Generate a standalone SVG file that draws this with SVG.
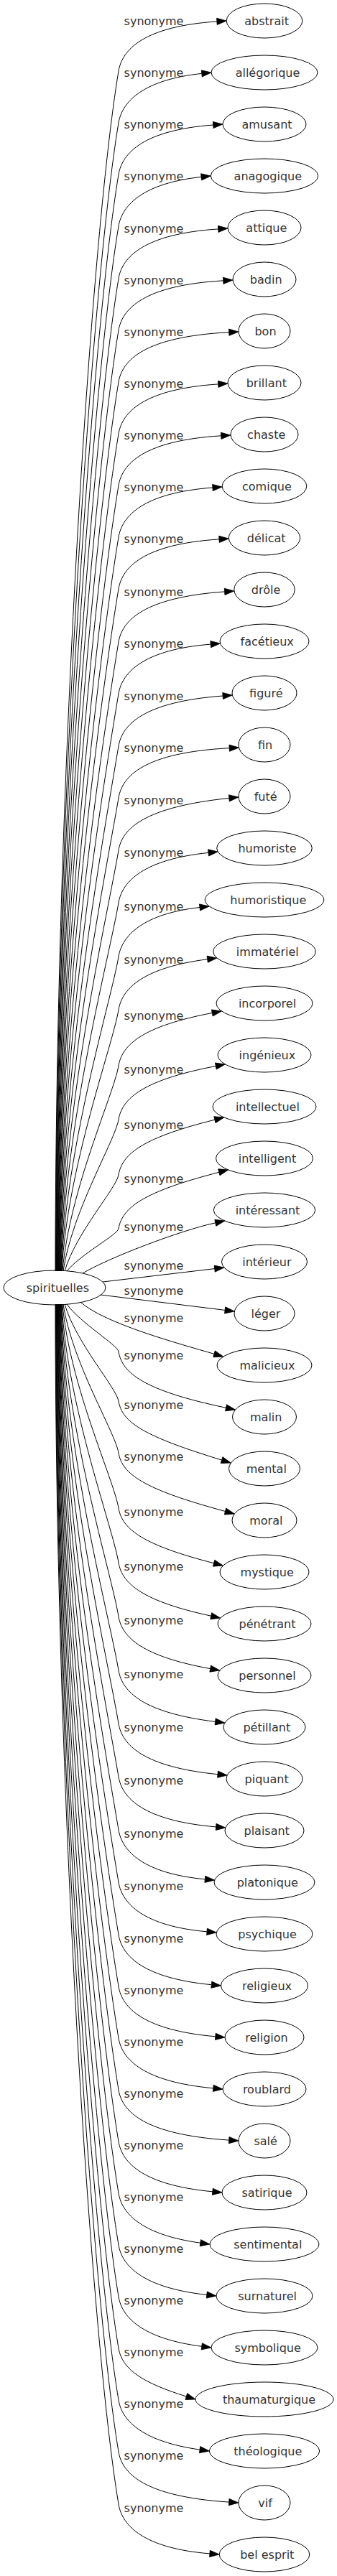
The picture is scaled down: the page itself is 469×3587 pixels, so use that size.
<svg xmlns="http://www.w3.org/2000/svg" width="469" height="3587" viewBox="0 0 469 3587">
<style>
.n ellipse{fill:none;stroke:#000;stroke-width:1}
text{font-family:"DejaVu Sans","Liberation Sans",sans-serif;font-size:16px;fill:#333;text-anchor:middle}
.e path{fill:none;stroke:#000;stroke-width:1;marker-end:url(#ah)}
</style>
<defs>
<marker id="ah" markerUnits="userSpaceOnUse" markerWidth="15" markerHeight="11" refX="0" refY="5" orient="auto" overflow="visible">
<path d="M0,0.4 L13.3,5 L0,9.6 Z" fill="#000" stroke="#000" stroke-width="0.8"/>
</marker>
</defs>
<rect width="469" height="3587" fill="#fff"/>
<g id="connectors" class="e">
<path d="M77,1770 C77.1,1101.6 126,332.9 165,99 C170,69 200,36.8 301.9,29.9"/>
<path d="M77.5,1770 C77.6,1130.4 127.7,394.9 165,171 C170,141 200,110.9 280.8,102.4"/>
<path d="M78,1770 C78.2,1159.2 129.4,456.8 165,243 C170,213 200,181.2 296.7,174"/>
<path d="M78.5,1770 C78.7,1188 131.1,518.7 165,315 C170,285 200,255 280.1,246.4"/>
<path d="M79,1770 C79.3,1217.2 132.8,581.5 165,388 C170,358 200,325.7 303.7,318.9"/>
<path d="M79.5,1770 C79.9,1246 134.4,643.4 165,460 C170,430 200,397.3 310.7,390.8"/>
<path d="M80,1770 C80.5,1274.8 136.1,705.3 165,532 C170,502 200,468.9 318.7,462.7"/>
<path d="M80.5,1770 C81.1,1303.6 137.8,767.2 165,604 C170,574 200,541.7 303.7,534.9"/>
<path d="M81,1770 C81.7,1332.4 139.5,829.2 165,676 C170,646 200,613.4 307.7,606.8"/>
<path d="M81.5,1770 C82.4,1361.2 141.2,891.1 165,748 C170,718 200,686.2 295.9,679"/>
<path d="M82,1770 C83.1,1390 142.8,953 165,820 C170,790 200,757.6 305,750.9"/>
<path d="M82.5,1770 C84,1419.6 144.6,1016.6 165,894 C170,864 200,832 312.6,823.9"/>
<path d="M83,1770 C84.9,1448.4 146.2,1078.6 165,966 C170,936 200,904.5 293.2,897.1"/>
<path d="M83.5,1770 C85.9,1477.6 148,1141.3 165,1039 C170,1009 200,977.2 310.1,969"/>
<path d="M84,1770 C87,1506.4 149.6,1203.3 165,1111 C170,1081 200,1047.9 319.2,1041.7"/>
<path d="M84.5,1770 C88.3,1535.6 151.3,1266 165,1184 C170,1154 200,1123.9 318.8,1111.4"/>
<path d="M85,1770 C89.8,1564.8 153,1328.8 165,1257 C170,1227 200,1196.9 290,1187.4"/>
<path d="M85.5,1770 C91.6,1594.8 154.8,1393.3 165,1332 C170,1302 200,1272.4 278,1263.5"/>
<path d="M86,1770 C93.8,1624.4 156.5,1457 165,1406 C170,1376 200,1347.3 288.7,1335.7"/>
<path d="M87,1770 C96.9,1655.6 158.3,1524 165,1484 C170,1454 200,1428.7 295.3,1410.5"/>
<path d="M88,1770 C100.6,1685.6 160.1,1588.5 165,1559 C170,1529 200,1503.7 300.3,1484.5"/>
<path d="M90,1770 C105.8,1716.4 161.9,1654.8 165,1636 C170,1606 200,1584 298.9,1559.2"/>
<path d="M93,1770 C112.4,1746.4 163.6,1719.3 165,1711 C170,1681 200,1659.5 304.8,1632.3"/>
<path d="M115,1773 C150,1752 250.9,1713.2 299.8,1702.8"/>
<path d="M143,1785 L298.7,1766.6"/>
<path d="M140,1803 L313.1,1824.4"/>
<path d="M112,1813 C145,1843 250,1871.3 298,1885.3"/>
<path d="M93,1816 C112.1,1842.4 163.5,1872.8 165,1882 C170,1912 200,1936.3 314.5,1960.3"/>
<path d="M90,1816 C105.8,1870 161.9,1932.1 165,1951 C170,1981 200,1999.8 308.6,2033.1"/>
<path d="M88,1816 C100.7,1898.8 160.2,1994 165,2023 C170,2053 200,2073.8 313.5,2104.5"/>
<path d="M87,1816 C97,1929.6 158.4,2060.2 165,2100 C170,2130 200,2151.6 297.6,2176.7"/>
<path d="M86,1816 C93.9,1960 156.6,2125.6 165,2176 C170,2206 200,2229.9 293.7,2250.2"/>
<path d="M85.5,1816 C91.7,1990 154.9,2190.1 165,2251 C170,2281 200,2306.8 292.7,2323.6"/>
<path d="M85,1816 C89.8,2020 153.1,2254.6 165,2326 C170,2356 200,2385.1 299.6,2397.4"/>
<path d="M84.5,1816 C88.3,2049.6 151.4,2318.2 165,2400 C170,2430 200,2460.4 303,2470.7"/>
<path d="M84,1816 C87,2079.2 149.6,2381.9 165,2474 C170,2504 200,2535.2 300.6,2543.9"/>
<path d="M83.5,1816 C85.8,2108.8 147.9,2445.5 165,2548 C170,2578 200,2608.8 285.3,2616.8"/>
<path d="M83,1816 C84.8,2138 146.2,2508.3 165,2621 C170,2651 200,2682 288,2689.8"/>
<path d="M82.5,1816 C84,2167.2 144.5,2571.1 165,2694 C170,2724 200,2754.5 294.3,2763.7"/>
<path d="M82,1816 C83.2,2196 142.8,2633 165,2766 C170,2796 200,2827 299.8,2835.8"/>
<path d="M81.5,1816 C82.4,2224.8 141.2,2694.9 165,2838 C170,2868 200,2898.8 296.8,2907.8"/>
<path d="M81,1816 C81.7,2253.6 139.5,2756.8 165,2910 C170,2940 200,2972.3 318.7,2980.1"/>
<path d="M80.5,1816 C81.1,2282.4 137.8,2818.8 165,2982 C170,3012 200,3042.8 295.8,3051.8"/>
<path d="M80,1816 C80.5,2311.2 136.1,2880.7 165,3054 C170,3084 200,3112.3 278.8,3123.2"/>
<path d="M79.5,1816 C79.9,2340 134.4,2942.6 165,3126 C170,3156 200,3185.7 287.8,3195.5"/>
<path d="M79,1816 C79.3,2368.8 132.8,3004.5 165,3198 C170,3228 200,3256.7 280.8,3267.3"/>
<path d="M78.5,1816 C78.7,2397.6 131.1,3066.4 165,3270 C170,3300 200,3318.5 259.3,3337"/>
<path d="M78,1816 C78.2,2426.4 129.4,3128.4 165,3342 C170,3372 200,3400 278.1,3411.1"/>
<path d="M77.5,1816 C77.6,2455.2 127.7,3190.3 165,3414 C170,3444 200,3476.3 318.7,3484.1"/>
<path d="M77,1816 C77.1,2484.4 126,3253.1 165,3487 C170,3517 200,3548.4 291.9,3555.9"/>
</g>
<g id="edge-labels">
<text x="214" y="35">synonyme</text>
<text x="214" y="107">synonyme</text>
<text x="214" y="179">synonyme</text>
<text x="214" y="251">synonyme</text>
<text x="214" y="324">synonyme</text>
<text x="214" y="396">synonyme</text>
<text x="214" y="468">synonyme</text>
<text x="214" y="540">synonyme</text>
<text x="214" y="612">synonyme</text>
<text x="214" y="684">synonyme</text>
<text x="214" y="756">synonyme</text>
<text x="214" y="830">synonyme</text>
<text x="214" y="902">synonyme</text>
<text x="214" y="975">synonyme</text>
<text x="214" y="1047">synonyme</text>
<text x="214" y="1120">synonyme</text>
<text x="214" y="1193">synonyme</text>
<text x="214" y="1268">synonyme</text>
<text x="214" y="1342">synonyme</text>
<text x="214" y="1420">synonyme</text>
<text x="214" y="1495">synonyme</text>
<text x="214" y="1572">synonyme</text>
<text x="214" y="1647">synonyme</text>
<text x="214" y="1714">synonyme</text>
<text x="214" y="1768">synonyme</text>
<text x="214" y="1803">synonyme</text>
<text x="214" y="1841">synonyme</text>
<text x="214" y="1893">synonyme</text>
<text x="214" y="1962">synonyme</text>
<text x="214" y="2034">synonyme</text>
<text x="214" y="2111">synonyme</text>
<text x="214" y="2187">synonyme</text>
<text x="214" y="2262">synonyme</text>
<text x="214" y="2337">synonyme</text>
<text x="214" y="2411">synonyme</text>
<text x="214" y="2485">synonyme</text>
<text x="214" y="2559">synonyme</text>
<text x="214" y="2632">synonyme</text>
<text x="214" y="2705">synonyme</text>
<text x="214" y="2777">synonyme</text>
<text x="214" y="2849">synonyme</text>
<text x="214" y="2921">synonyme</text>
<text x="214" y="2993">synonyme</text>
<text x="214" y="3065">synonyme</text>
<text x="214" y="3137">synonyme</text>
<text x="214" y="3209">synonyme</text>
<text x="214" y="3281">synonyme</text>
<text x="214" y="3353">synonyme</text>
<text x="214" y="3425">synonyme</text>
<text x="214" y="3498">synonyme</text>
</g>
<g id="n0" class="n"><ellipse cx="76" cy="1793" rx="71" ry="24"/><text x="80.4" y="1799">spirituelles</text></g>
<g id="n1" class="n"><ellipse cx="368" cy="29" rx="52.8" ry="24"/><text x="371.1" y="35">abstrait</text></g>
<g id="n2" class="n"><ellipse cx="368" cy="101" rx="74" ry="24"/><text x="372.5" y="107">allégorique</text></g>
<g id="n3" class="n"><ellipse cx="368" cy="173" rx="58" ry="24"/><text x="371.5" y="179">amusant</text></g>
<g id="n4" class="n"><ellipse cx="368" cy="245" rx="74.7" ry="24"/><text x="372.8" y="251">anagogique</text></g>
<g id="n5" class="n"><ellipse cx="368" cy="317" rx="51" ry="24"/><text x="370.8" y="323">attique</text></g>
<g id="n6" class="n"><ellipse cx="368" cy="389" rx="44" ry="24"/><text x="370.2" y="395">badin</text></g>
<g id="n7" class="n"><ellipse cx="368" cy="461" rx="36" ry="24"/><text x="369.5" y="467">bon</text></g>
<g id="n8" class="n"><ellipse cx="368" cy="533" rx="51" ry="24"/><text x="370.8" y="539">brillant</text></g>
<g id="n9" class="n"><ellipse cx="368" cy="605" rx="47" ry="24"/><text x="370.7" y="611">chaste</text></g>
<g id="n10" class="n"><ellipse cx="368" cy="677" rx="58.8" ry="24"/><text x="371.4" y="683">comique</text></g>
<g id="n11" class="n"><ellipse cx="368" cy="749" rx="49.7" ry="24"/><text x="370.7" y="755">délicat</text></g>
<g id="n12" class="n"><ellipse cx="368" cy="821" rx="42.2" ry="24"/><text x="370" y="827">drôle</text></g>
<g id="n13" class="n"><ellipse cx="368" cy="893" rx="62" ry="24"/><text x="371.7" y="899">facétieux</text></g>
<g id="n14" class="n"><ellipse cx="368" cy="965" rx="45" ry="24"/><text x="370.3" y="971">figuré</text></g>
<g id="n15" class="n"><ellipse cx="368" cy="1037" rx="36" ry="24"/><text x="369" y="1043">fin</text></g>
<g id="n16" class="n"><ellipse cx="368" cy="1109" rx="36" ry="24"/><text x="369.6" y="1115">futé</text></g>
<g id="n17" class="n"><ellipse cx="368" cy="1181" rx="66.3" ry="24"/><text x="372" y="1187">humoriste</text></g>
<g id="n18" class="n"><ellipse cx="368" cy="1253" rx="82.8" ry="24"/><text x="373.3" y="1259">humoristique</text></g>
<g id="n19" class="n"><ellipse cx="368" cy="1325" rx="71.3" ry="24"/><text x="372.3" y="1331">immatériel</text></g>
<g id="n20" class="n"><ellipse cx="368" cy="1397" rx="67" ry="24"/><text x="372" y="1403">incorporel</text></g>
<g id="n21" class="n"><ellipse cx="368" cy="1469" rx="65" ry="24"/><text x="371.9" y="1475">ingénieux</text></g>
<g id="n22" class="n"><ellipse cx="368" cy="1541" rx="72" ry="24"/><text x="372.4" y="1547">intellectuel</text></g>
<g id="n23" class="n"><ellipse cx="368" cy="1613" rx="67.5" ry="24"/><text x="372" y="1619">intelligent</text></g>
<g id="n24" class="n"><ellipse cx="368" cy="1685" rx="70.7" ry="24"/><text x="372.5" y="1691">intéressant</text></g>
<g id="n25" class="n"><ellipse cx="368" cy="1757" rx="59.5" ry="24"/><text x="371.4" y="1763">intérieur</text></g>
<g id="n26" class="n"><ellipse cx="368" cy="1829" rx="42" ry="24"/><text x="370" y="1835">léger</text></g>
<g id="n27" class="n"><ellipse cx="368" cy="1901" rx="66" ry="24"/><text x="371.9" y="1907">malicieux</text></g>
<g id="n28" class="n"><ellipse cx="368" cy="1973" rx="44.5" ry="24"/><text x="370.2" y="1979">malin</text></g>
<g id="n29" class="n"><ellipse cx="368" cy="2045" rx="49.5" ry="24"/><text x="370.8" y="2051">mental</text></g>
<g id="n30" class="n"><ellipse cx="368" cy="2117" rx="45" ry="24"/><text x="370.3" y="2123">moral</text></g>
<g id="n31" class="n"><ellipse cx="368" cy="2189" rx="62" ry="24"/><text x="371.7" y="2195">mystique</text></g>
<g id="n32" class="n"><ellipse cx="368" cy="2261" rx="65" ry="24"/><text x="372" y="2267">pénétrant</text></g>
<g id="n33" class="n"><ellipse cx="368" cy="2333" rx="65" ry="24"/><text x="372" y="2339">personnel</text></g>
<g id="n34" class="n"><ellipse cx="368" cy="2405" rx="57" ry="24"/><text x="371.3" y="2411">pétillant</text></g>
<g id="n35" class="n"><ellipse cx="368" cy="2477" rx="53" ry="24"/><text x="371.1" y="2483">piquant</text></g>
<g id="n36" class="n"><ellipse cx="368" cy="2549" rx="55" ry="24"/><text x="371.2" y="2555">plaisant</text></g>
<g id="n37" class="n"><ellipse cx="368" cy="2621" rx="70" ry="24"/><text x="372.3" y="2627">platonique</text></g>
<g id="n38" class="n"><ellipse cx="368" cy="2693" rx="67" ry="24"/><text x="372.1" y="2699">psychique</text></g>
<g id="n39" class="n"><ellipse cx="368" cy="2765" rx="60.5" ry="24"/><text x="371.5" y="2771">religieux</text></g>
<g id="n40" class="n"><ellipse cx="368" cy="2837" rx="55" ry="24"/><text x="371" y="2843">religion</text></g>
<g id="n41" class="n"><ellipse cx="368" cy="2909" rx="58" ry="24"/><text x="371.4" y="2915">roublard</text></g>
<g id="n42" class="n"><ellipse cx="368" cy="2981" rx="36" ry="24"/><text x="369.6" y="2987">salé</text></g>
<g id="n43" class="n"><ellipse cx="368" cy="3053" rx="59" ry="24"/><text x="371.5" y="3059">satirique</text></g>
<g id="n44" class="n"><ellipse cx="368" cy="3125" rx="76" ry="24"/><text x="372.8" y="3131">sentimental</text></g>
<g id="n45" class="n"><ellipse cx="368" cy="3197" rx="67" ry="24"/><text x="372.1" y="3203">surnaturel</text></g>
<g id="n46" class="n"><ellipse cx="368" cy="3269" rx="74" ry="24"/><text x="372.6" y="3275">symbolique</text></g>
<g id="n47" class="n"><ellipse cx="368" cy="3341" rx="96" ry="24"/><text x="374.5" y="3347">thaumaturgique</text></g>
<g id="n48" class="n"><ellipse cx="368" cy="3413" rx="76.7" ry="24"/><text x="372.8" y="3419">théologique</text></g>
<g id="n49" class="n"><ellipse cx="368" cy="3485" rx="36" ry="24"/><text x="369" y="3491">vif</text></g>
<g id="n50" class="n"><ellipse cx="368" cy="3557" rx="62.8" ry="24"/><text x="371.8" y="3563">bel esprit</text></g>
</svg>
